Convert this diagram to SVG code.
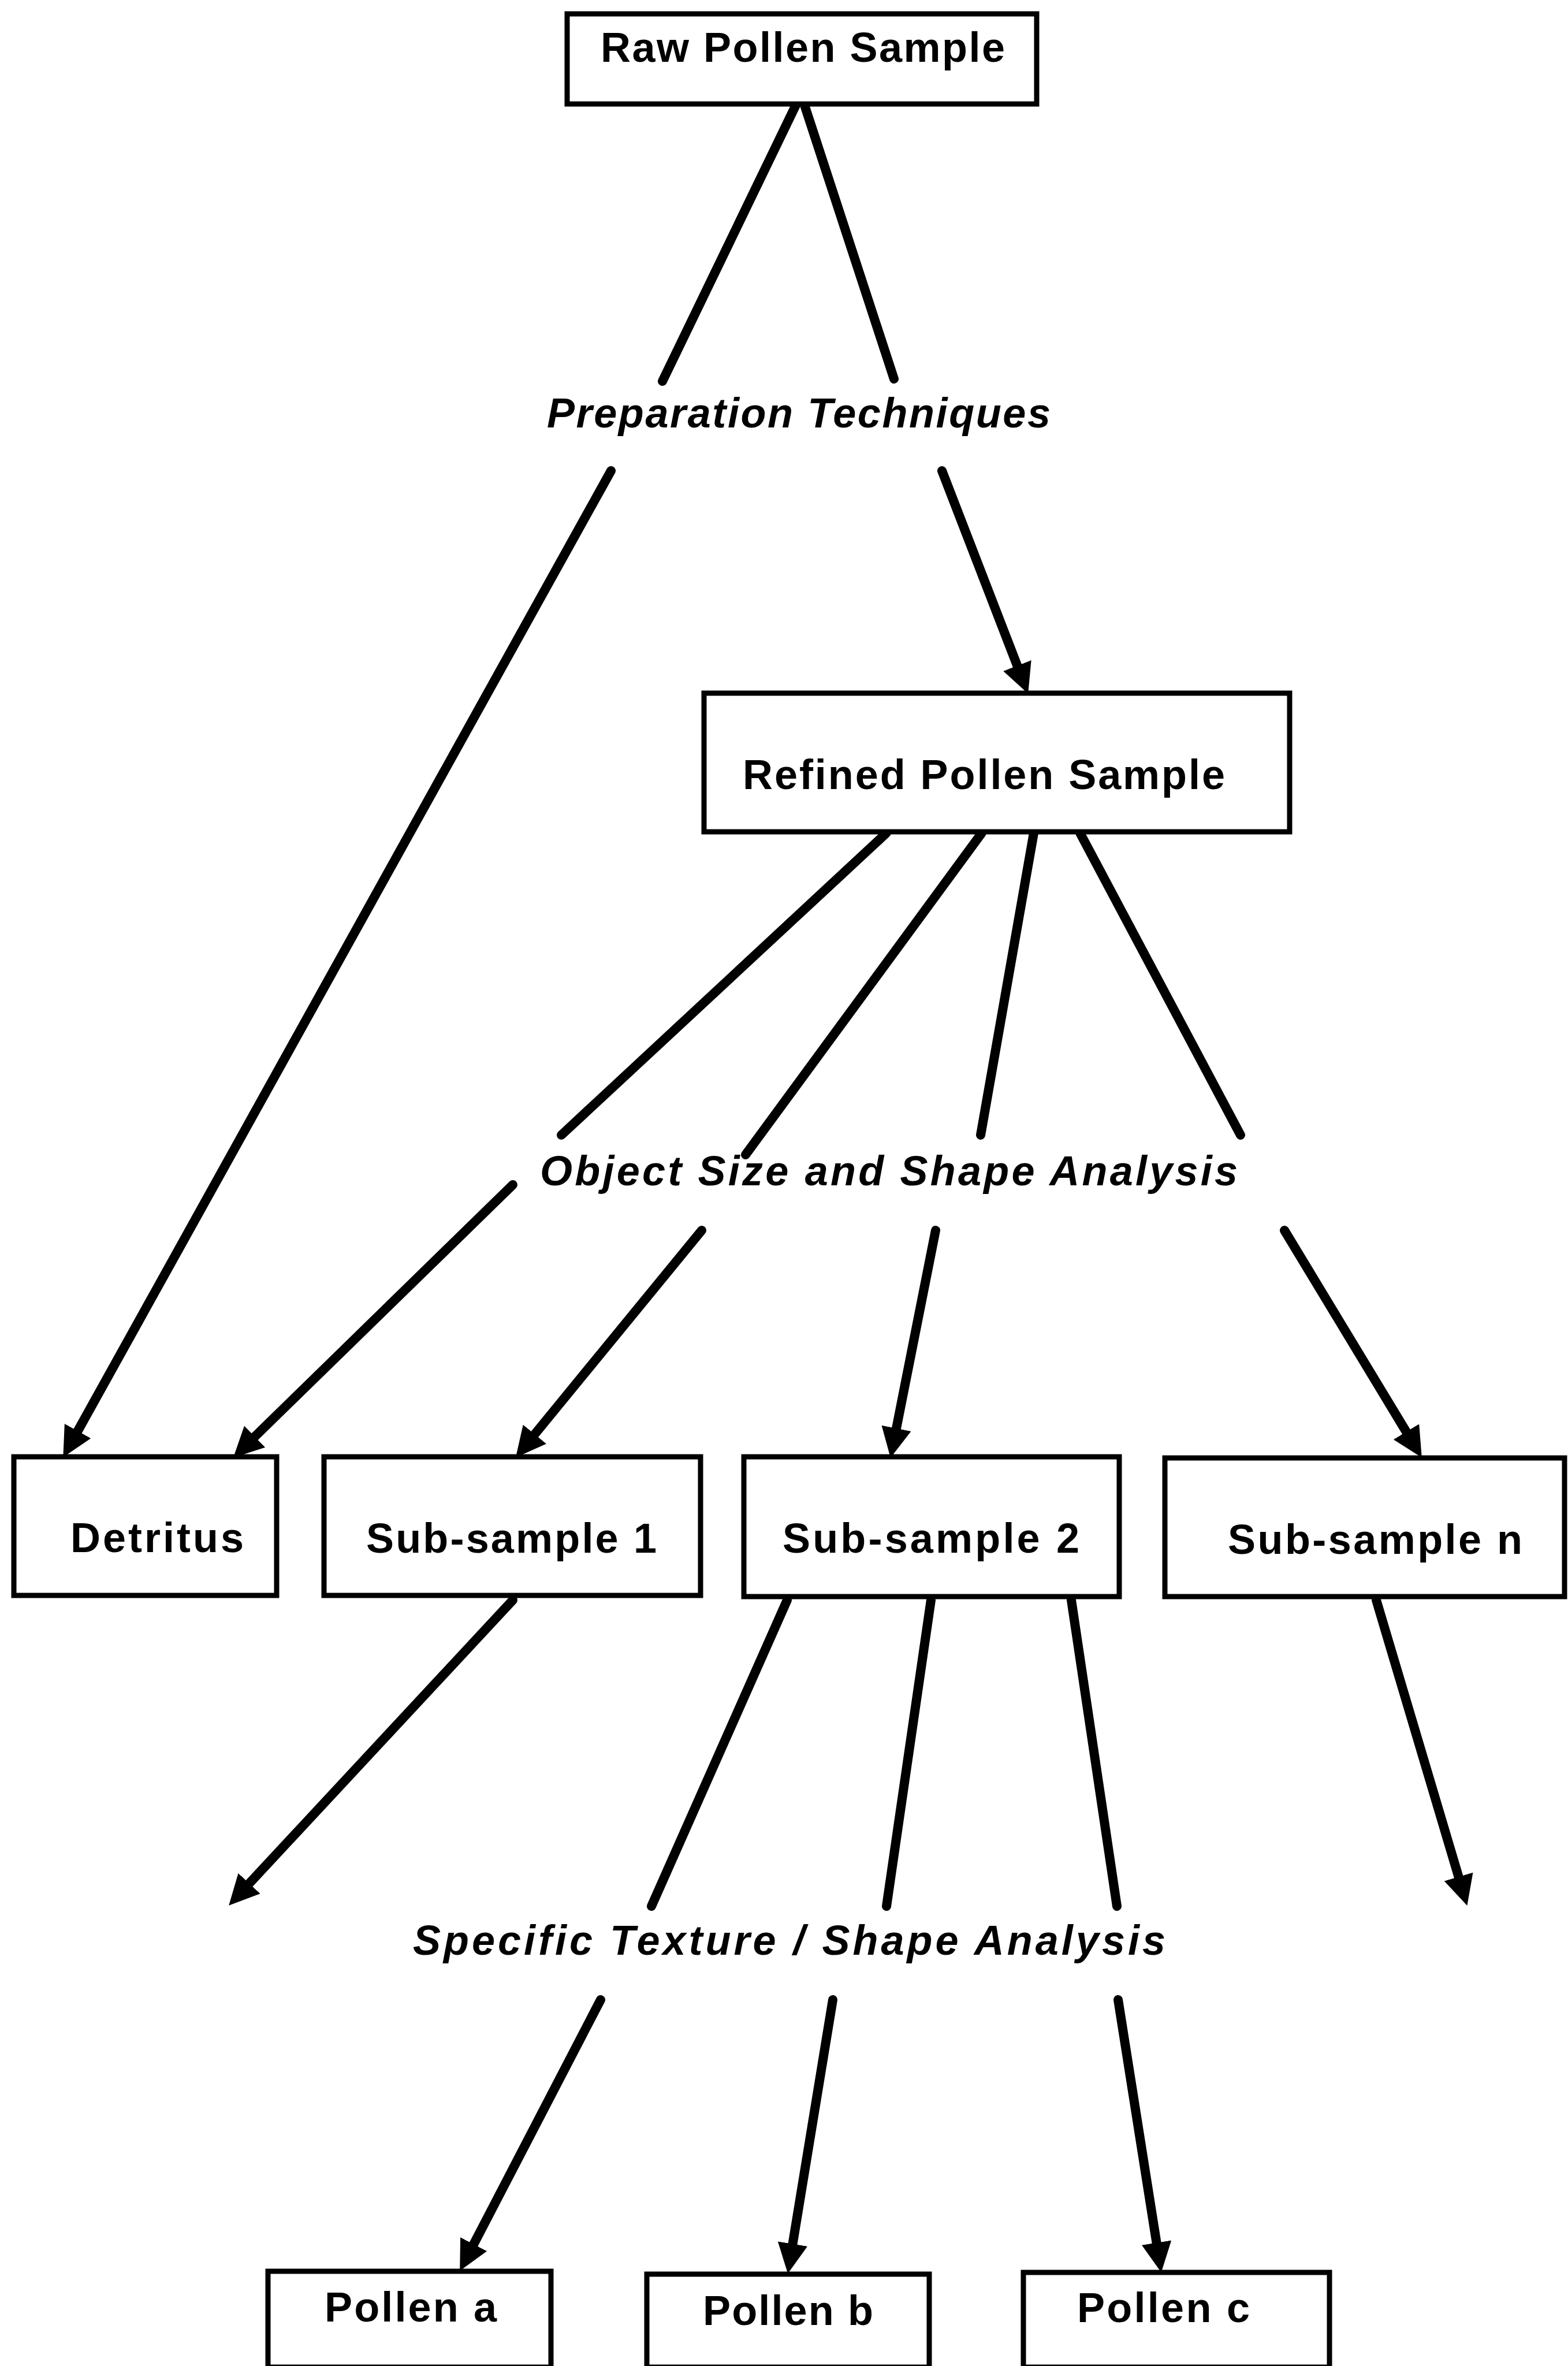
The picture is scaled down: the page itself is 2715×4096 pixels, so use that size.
<svg xmlns="http://www.w3.org/2000/svg" width="2715" height="4096" viewBox="0 0 2715 4096">
<style>
.box{fill:#fff;stroke:#000;stroke-width:9}
.lbl{font-family:"Liberation Sans",Arial,sans-serif;font-weight:bold;font-size:72px;fill:#000}
.it{font-style:italic}
.con{stroke:#000;stroke-width:16;fill:none;stroke-linecap:round}
</style>
<defs>
<marker id="ah" viewBox="0 0 10 10" refX="3" refY="5" markerUnits="userSpaceOnUse" markerWidth="52" markerHeight="52" orient="auto">
<path d="M0,0 L10,5 L0,10 z" fill="#000"/>
</marker>
</defs>
<rect width="2715" height="4096" fill="#fff"/>
<g id="connectors">
<line class="con" x1="1378" y1="182" x2="1147" y2="660"/>
<line class="con" x1="1393" y1="182" x2="1548" y2="656"/>
<line class="con" x1="1058" y1="815" x2="127" y2="2491" marker-end="url(#ah)"/>
<line class="con" x1="1631" y1="815" x2="1767" y2="1167" marker-end="url(#ah)"/>
<line class="con" x1="1535" y1="1442" x2="972" y2="1965"/>
<line class="con" x1="1700" y1="1442" x2="1291" y2="1999"/>
<line class="con" x1="1790" y1="1442" x2="1698" y2="1965"/>
<line class="con" x1="1870" y1="1442" x2="2148" y2="1965"/>
<line class="con" x1="888" y1="2051" x2="430" y2="2498" marker-end="url(#ah)"/>
<line class="con" x1="1215" y1="2130" x2="916" y2="2495" marker-end="url(#ah)"/>
<line class="con" x1="1620" y1="2130" x2="1549" y2="2488" marker-end="url(#ah)"/>
<line class="con" x1="2224" y1="2130" x2="2443" y2="2492" marker-end="url(#ah)"/>
<line class="con" x1="888" y1="2770" x2="421" y2="3272" marker-end="url(#ah)"/>
<line class="con" x1="2383" y1="2770" x2="2530" y2="3264" marker-end="url(#ah)"/>
<line class="con" x1="1363" y1="2770" x2="1128" y2="3300"/>
<line class="con" x1="1612" y1="2770" x2="1535" y2="3300"/>
<line class="con" x1="1855" y1="2770" x2="1934" y2="3300"/>
<line class="con" x1="1040" y1="3462" x2="813" y2="3899" marker-end="url(#ah)"/>
<line class="con" x1="1442" y1="3462" x2="1370" y2="3900" marker-end="url(#ah)"/>
<line class="con" x1="1936" y1="3462" x2="2005" y2="3898" marker-end="url(#ah)"/>
</g>
<g id="raw"><rect class="box" x="982" y="24" width="813" height="156"/><text class="lbl" x="1040" y="107" textLength="700" lengthAdjust="spacing">Raw Pollen Sample</text></g>
<g id="prep"><text class="lbl it" x="947" y="740" textLength="872" lengthAdjust="spacing">Preparation Techniques</text></g>
<g id="refined"><rect class="box" x="1219" y="1200" width="1014" height="240"/><text class="lbl" x="1286" y="1366" textLength="835" lengthAdjust="spacing">Refined Pollen Sample</text></g>
<g id="objsize"><text class="lbl it" x="935" y="2052" textLength="1208" lengthAdjust="spacing">Object Size and Shape Analysis</text></g>
<g id="detritus"><rect class="box" x="24" y="2522" width="455" height="240"/><text class="lbl" x="122" y="2687" textLength="300" lengthAdjust="spacing">Detritus</text></g>
<g id="sub1"><rect class="box" x="561" y="2522" width="652" height="240"/><text class="lbl" x="634" y="2688" textLength="503" lengthAdjust="spacing">Sub-sample 1</text></g>
<g id="sub2"><rect class="box" x="1288" y="2522" width="650" height="242"/><text class="lbl" x="1355" y="2688" textLength="514" lengthAdjust="spacing">Sub-sample 2</text></g>
<g id="subn"><rect class="box" x="2017" y="2524" width="692" height="240"/><text class="lbl" x="2126" y="2690" textLength="510" lengthAdjust="spacing">Sub-sample n</text></g>
<g id="specific"><text class="lbl it" x="715" y="3384" textLength="1303" lengthAdjust="spacing">Specific Texture / Shape Analysis</text></g>
<g id="pollena"><rect class="box" x="464" y="3932" width="490" height="166"/><text class="lbl" x="562" y="4019" textLength="298" lengthAdjust="spacing">Pollen a</text></g>
<g id="pollenb"><rect class="box" x="1120" y="3937" width="489" height="161"/><text class="lbl" x="1217" y="4025" textLength="295" lengthAdjust="spacing">Pollen b</text></g>
<g id="pollenc"><rect class="box" x="1772" y="3934" width="530" height="164"/><text class="lbl" x="1865" y="4020" textLength="299" lengthAdjust="spacing">Pollen c</text></g>
</svg>
